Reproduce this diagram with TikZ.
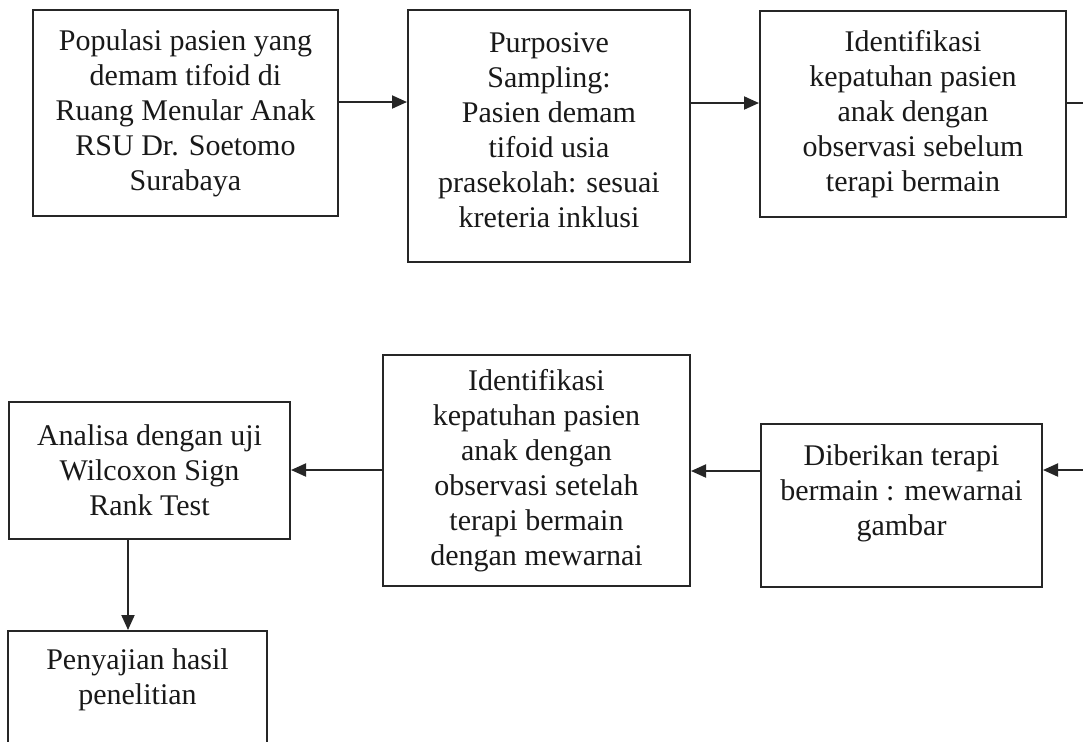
\documentclass[tikz,border=0pt]{standalone}
\usepackage{fontspec}
\setmainfont{Liberation Serif}
\usetikzlibrary{arrows.meta}
\begin{document}
\begin{tikzpicture}[x=0.5pt,y=-0.5pt,
  box/.style={draw=black!85, line width=1pt, align=center, inner sep=0pt,
    font=\fontsize{15}{17.5}\selectfont, text=black!90},
  openbox/.style={draw=black!85, line width=1pt, inner sep=0pt,
    font=\fontsize{15}{17.5}\selectfont, text=black!90},
  conn/.style={draw=black!85, line width=1pt, -{Triangle[length=7.5pt,width=6.5pt]}},
  plain/.style={draw=black!85, line width=1pt}]
\useasboundingbox (0,0) rectangle (1083,741);
\clip (0,0) rectangle (1083,741);
% top row
\node[box, minimum width=152.5pt, minimum height=103pt] (b1) at (185.5,113)
  {Populasi pasien yang\\demam tifoid di\\Ruang Menular Anak\\RSU Dr. Soetomo\\Surabaya};
\node[box, minimum width=141pt, minimum height=126pt] (b2) at (549,136)
  {Purposive\\Sampling:\\Pasien demam\\tifoid usia\\prasekolah: sesuai\\kreteria inklusi\\[-11.5pt]};
\node[box, minimum width=153pt, minimum height=103pt] (b3) at (913,114)
  {Identifikasi\\kepatuhan pasien\\anak dengan\\observasi sebelum\\terapi bermain};
% bottom row
\node[box, minimum width=140.5pt, minimum height=81.5pt] (b4) at (901.5,505.5)
  {Diberikan terapi\\bermain : mewarnai\\gambar\\[-2.5pt]};
\node[box, minimum width=153.5pt, minimum height=115.5pt] (b5) at (536.5,470.5)
  {Identifikasi\\kepatuhan pasien\\anak dengan\\observasi setelah\\terapi bermain\\dengan mewarnai};
\node[box, minimum width=140.5pt, minimum height=68.5pt] (b6) at (149.5,470.5)
  {Analisa dengan uji\\Wilcoxon Sign\\Rank Test};
\node[openbox, anchor=north, minimum width=129.5pt] (b7) at (137.5,630)
  {\parbox[c][150pt][t]{129.5pt}{\centering\fontsize{15}{17.5}\selectfont\vspace*{9pt}Penyajian hasil\\penelitian}};
% off-page ends
\coordinate (outT) at (1100,103);
\coordinate (outB) at (1100,470);
% connectors
\draw[conn] (b1.east |- 0,102) -- (b2.west |- 0,102);
\draw[conn] (b2.east |- 0,103) -- (b3.west |- 0,103);
\draw[plain] (b3.east |- 0,103) -- (outT);
\draw[conn] (outB) -- (b4.east |- 0,470);
\draw[conn] (b4.west |- 0,471) -- (b5.east |- 0,471);
\draw[conn] (b5.west |- 0,470) -- (b6.east |- 0,470);
\draw[conn] (128,0 |- b6.south) -- (128,0 |- b7.north);
\end{tikzpicture}
\end{document}
